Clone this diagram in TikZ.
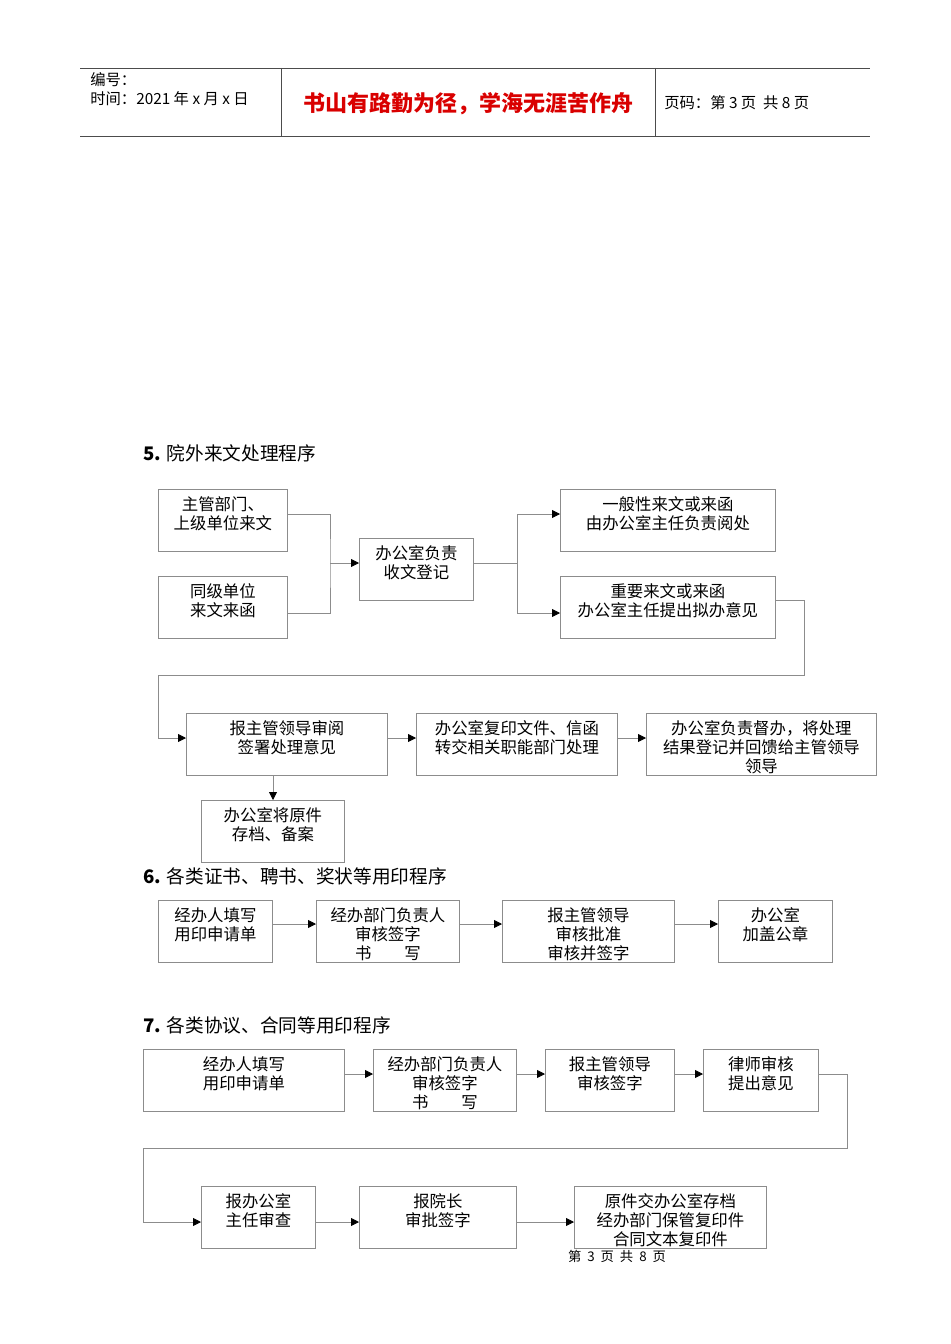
\documentclass[tikz,border=0pt]{standalone}
\usepackage{fontspec}
\setmainfont{Liberation Sans}
\newfontfamily\cjk{Noto Sans CJK SC}
\usetikzlibrary{arrows.meta,calc}
\tikzset{
  bx/.style={draw=black!45,line width=0.6pt,inner sep=0pt,anchor=north west},
  txt/.style={anchor=north,align=center,inner sep=0pt,font=\cjk\fontsize{12.3}{14.3}\selectfont},
  ln/.style={draw=black!45,line width=0.6pt},
  ar/.style={ln,-{Triangle[black,length=6pt,width=6pt]}},
  ttl/.style={anchor=west,inner sep=0pt,font=\cjk\fontsize{14}{16}\selectfont}
}
\newcommand{\bxx}[6]{%
  \node[bx,minimum width={(#4-#2)*0.75pt},minimum height={(#5-#3)*0.75pt}] (#1) at (#2,#3) {};
  \begin{scope}\clip (#1.south west) rectangle (#1.north east);
  \node[txt] at ($(#1.north)+(0,7)$) {#6};\end{scope}}
\begin{document}
\begin{tikzpicture}[x=0.75pt,y=-0.75pt]
\useasboundingbox (0,0) rectangle (950,1344);
% header
\draw[black!70,line width=0.6pt] (80,68) -- (870,68) (80,136) -- (870,136) (281,68) -- (281,136) (655,68) -- (655,136);
\node[anchor=west,inner sep=0pt,font=\cjk\fontsize{11.5}{13}\selectfont] (h1) at (90,80) {编号：};
\node[anchor=west,inner sep=0pt,font=\cjk\fontsize{11.5}{13}\selectfont] (h2) at (90,99) {时间：2021 年 x 月 x 日};
\node[inner sep=0pt,text=red!85!black,font=\cjk\bfseries\fontsize{16.5}{18}\selectfont] (h3) at (468,104) {书山有路勤为径，学海无涯苦作舟};
\node[anchor=west,inner sep=0pt,font=\cjk\fontsize{11.5}{13}\selectfont] (h4) at (664,103) {页码：第 3 页\ \ 共 8 页};
% section 5
\node[ttl] (t5) at (143,453) {\textbf{5.} 院外来文处理程序};
\bxx{A}{158}{489}{287}{551}{主管部门、\\上级单位来文}
\bxx{B}{158}{576}{287}{638}{同级单位\\来文来函}
\bxx{C}{359}{538}{473}{600}{办公室负责\\收文登记}
\bxx{D}{560}{489}{775}{551}{一般性来文或来函\\由办公室主任负责阅处}
\bxx{E}{560}{576}{775}{638}{重要来文或来函\\办公室主任提出拟办意见}
\coordinate (j1) at (330,563);
\coordinate (j2) at (517,563);
\draw[ln] (A.east |- 0,514) -| (j1) |- (B.east |- 0,613);
\draw[ar] (j1) -- (C.west |- j1);
\draw[ln] (C.east |- j2) -- (j2);
\draw[ar] (j2) |- (D.west |- 0,514);
\draw[ar] (j2) |- (E.west |- 0,613);
\bxx{F}{186}{713}{387}{775}{报主管领导审阅\\签署处理意见}
\bxx{G}{416}{713}{617}{775}{办公室复印文件、信函\\转交相关职能部门处理}
\bxx{H}{646}{713}{876}{775}{办公室负责督办，将处理\\结果登记并回馈给主管领导\\领导}
\bxx{I}{201}{800}{344}{862}{办公室将原件\\存档、备案}
\draw[ar] (E.east |- 0,600) -- (804,600) -- (804,675) -- (158,675) -- (158,738) -- (F.west |- 0,738);
\draw[ar] (F.east |- 0,738) -- (G.west |- 0,738);
\draw[ar] (G.east |- 0,738) -- (H.west |- 0,738);
\draw[ar] (F.south -| 273,0) -- (I.north -| 273,0);
% section 6
\node[ttl] (t6) at (143,876) {\textbf{6.} 各类证书、聘书、奖状等用印程序};
\bxx{J}{158}{900}{272}{962}{经办人填写\\用印申请单}
\bxx{K}{316}{900}{459}{962}{经办部门负责人\\审核签字\\书\quad\quad 写}
\bxx{L}{502}{900}{674}{962}{报主管领导\\审核批准\\审核并签字}
\bxx{M}{718}{900}{832}{962}{办公室\\加盖公章}
\draw[ar] (J.east |- 0,924) -- (K.west |- 0,924);
\draw[ar] (K.east |- 0,924) -- (L.west |- 0,924);
\draw[ar] (L.east |- 0,924) -- (M.west |- 0,924);
% section 7
\node[ttl] (t7) at (143,1025) {\textbf{7.} 各类协议、合同等用印程序};
\bxx{N}{143}{1049}{344}{1111}{经办人填写\\用印申请单}
\bxx{O}{373}{1049}{516}{1111}{经办部门负责人\\审核签字\\书\quad\quad 写}
\bxx{P}{545}{1049}{674}{1111}{报主管领导\\审核签字}
\bxx{Q}{703}{1049}{818}{1111}{律师审核\\提出意见}
\draw[ar] (N.east |- 0,1074) -- (O.west |- 0,1074);
\draw[ar] (O.east |- 0,1074) -- (P.west |- 0,1074);
\draw[ar] (P.east |- 0,1074) -- (Q.west |- 0,1074);
\bxx{R}{201}{1186}{315}{1248}{报办公室\\主任审查}
\bxx{S}{359}{1186}{516}{1248}{报院长\\审批签字}
\bxx{T}{574}{1186}{766}{1248}{原件交办公室存档\\经办部门保管复印件\\合同文本复印件}
\draw[ar] (Q.east |- 0,1074) -- (847,1074) -- (847,1148) -- (143,1148) -- (143,1222) -- (R.west |- 0,1222);
\draw[ar] (R.east |- 0,1222) -- (S.west |- 0,1222);
\draw[ar] (S.east |- 0,1222) -- (T.west |- 0,1222);
\node[inner sep=0pt,font=\cjk\fontsize{10}{11}\selectfont] (ft) at (617,1256) {第\ \ 3\ \ 页\ \ 共\ \ 8\ \ 页};
\end{tikzpicture}
\end{document}
